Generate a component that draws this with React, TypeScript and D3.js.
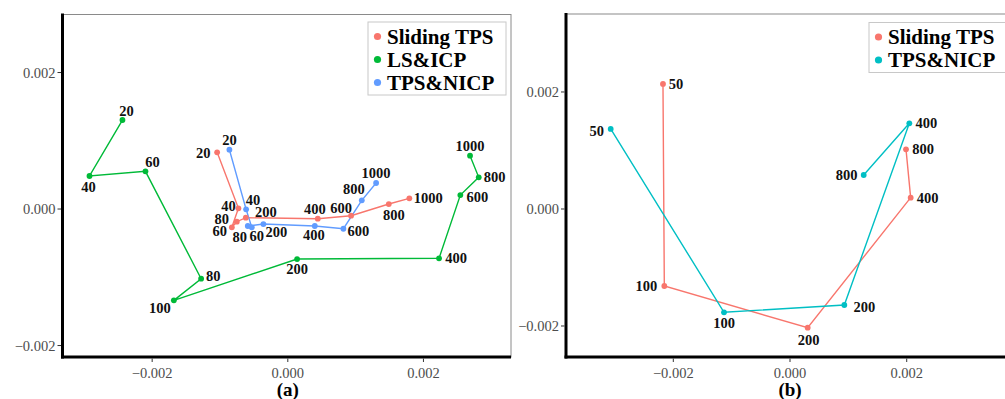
import React from "react";
import * as d3 from "d3";

// ---- Panel (a): trajectories of three registration methods ----
const aSlidingLabels = ["20", "40", "60", "80", "200", "400", "600", "800", "1000"];
const aSlidingX = [-0.001042, -0.000728, -0.000825, -0.000752, -0.000619, 0.000442, 0.000933, 0.001489, 0.001792];
const aSlidingY = [0.000831, 0.00001, -0.000268, -0.000186, -0.000127, -0.000142, -0.000098, 0.000073, 0.000157];

const aLsIcpLabels = ["20", "40", "60", "80", "100", "200", "400", "600", "800", "1000"];
const aLsIcpX = [-0.002438, -0.002924, -0.002099, -0.001278, -0.00168, 0.000137, 0.00223, 0.002544, 0.002815, 0.002687];
const aLsIcpY = [0.001304, 0.000484, 0.000552, -0.001021, -0.001338, -0.000733, -0.000722, 0.000205, 0.000464, 0.000781];

const aNicpLabels = ["20", "40", "60", "80", "200", "400", "600", "800", "1000"];
const aNicpX = [-0.000861, -0.000615, -0.000531, -0.00059, -0.00036, 0.000398, 0.00082, 0.001091, 0.001302];
const aNicpY = [0.000869, -0.000004, -0.000268, -0.000249, -0.00022, -0.000249, -0.000289, 0.000127, 0.000381];

// ---- Panel (b): two methods ----
const bSlidingLabels = ["50", "100", "200", "400", "800"];
const bSlidingX = [-0.002177, -0.002154, 0.000303, 0.002068, 0.001988];
const bSlidingY = [0.002137, -0.001316, -0.002029, 0.000194, 0.00102];

const bNicpLabels = ["50", "100", "200", "400", "800"];
const bNicpX = [-0.003073, -0.001131, 0.000931, 0.002045, 0.001263];
const bNicpY = [0.001368, -0.001766, -0.001641, 0.001465, 0.000581];

// Axis ticks
const tickValues = [-0.002, 0, 0.002];
const tickText = ["\u22120.002", "0.000", "0.002"];

// Legend entries
const legendA = ["Sliding TPS", "LS&ICP", "TPS&NICP"];
const legendB = ["Sliding TPS", "TPS&NICP"];

// Point label nudges (pixels) so labels sit beside their points
const aSlidingNudge = [[-14, 1], [-10, -2], [-12, 4], [-15, -3], [20, -6], [-3, -10], [-10, -8], [5, 11], [19, 0]];
const aLsIcpNudge = [[4, -9], [-1, 11], [7, -9], [12, -3], [-14, 8], [0, 10], [17, 0], [17, 2], [16, 0], [0, -10]];
const aNicpNudge = [[0, -10], [7, -9], [5, 9], [-8, 11], [13, 8], [-1, 9], [15, 2], [-8, -11], [0, -10]];
const bSlidingNudge = [[13, 0], [-18, 0], [1, 12], [17, 0], [17, 0]];
const bNicpNudge = [[-14, 2], [0, 11], [20, 2], [17, 0], [-17, 0]];

const RED = "#F8766D";
const GREEN = "#00BA38";
const BLUE = "#619CFF";
const CYAN = "#00BFC4";
const SERIF = "'Liberation Serif', 'Times New Roman', serif";

type Series = {
  labels: string[];
  xs: number[];
  ys: number[];
  color: string;
  nudge: number[][];
};

type PanelProps = {
  box: { left: number; right: number; top: number; bottom: number };
  xDomain: [number, number];
  yDomain: [number, number];
  series: Series[];
  legend: string[];
  legendColors: string[];
  legendBox: { x: number; y: number; w: number; h: number };
  caption: string;
  clipId: string;
};

function Panel({ box, xDomain, yDomain, series, legend, legendColors, legendBox, caption, clipId }: PanelProps) {
  const x = d3.scaleLinear().domain(xDomain).range([box.left, box.right]);
  const y = d3.scaleLinear().domain(yDomain).range([box.bottom, box.top]);
  const line = d3
    .line<[number, number]>()
    .x((d) => x(d[0]))
    .y((d) => y(d[1]));

  return (
    <g>
      <defs>
        <clipPath id={clipId}>
          <rect x={box.left} y={box.top} width={box.right - box.left} height={box.bottom - box.top} />
        </clipPath>
      </defs>
      {/* panel frame: thin grey top/right, thick black left/bottom */}
      <rect
        x={box.left}
        y={box.top}
        width={box.right - box.left}
        height={box.bottom - box.top}
        fill="white"
        stroke="#8a8a8a"
        strokeWidth={1}
      />
      <g clipPath={`url(#${clipId})`}>
        {series.map((s, si) => (
          <path
            key={`l${si}`}
            d={line(s.xs.map((v, i) => [v, s.ys[i]] as [number, number])) || ""}
            fill="none"
            stroke={s.color}
            strokeWidth={1.4}
          />
        ))}
        {series.map((s, si) =>
          s.xs.map((v, i) => (
            <circle key={`p${si}-${i}`} cx={x(v)} cy={y(s.ys[i])} r={2.9} fill={s.color} />
          ))
        )}
      </g>
      {series.map((s, si) =>
        s.labels.map((lab, i) => (
          <text
            key={`t${si}-${i}`}
            x={x(s.xs[i]) + s.nudge[i][0]}
            y={y(s.ys[i]) + s.nudge[i][1]}
            dy="0.35em"
            textAnchor="middle"
            fontFamily={SERIF}
            fontWeight="bold"
            fontSize={14.5}
            fill="#111"
          >
            {lab}
          </text>
        ))
      )}
      {/* axes */}
      <line x1={box.left} y1={box.top - 1} x2={box.left} y2={box.bottom + 1.5} stroke="#000" strokeWidth={3} />
      <line x1={box.left - 1.5} y1={box.bottom} x2={box.right} y2={box.bottom} stroke="#000" strokeWidth={3} />
      {tickValues.map((t, i) => (
        <g key={`xt${i}`}>
          <line x1={x(t)} x2={x(t)} y1={box.bottom + 1.5} y2={box.bottom + 5} stroke="#333" strokeWidth={1} />
          <text
            x={x(t)}
            y={box.bottom + 21}
            textAnchor="middle"
            fontFamily={SERIF}
            fontSize={14.5}
            fill="#4D4D4D"
          >
            {tickText[i]}
          </text>
        </g>
      ))}
      {tickValues.map((t, i) => (
        <g key={`yt${i}`}>
          <line x1={box.left - 5} x2={box.left - 1.5} y1={y(t)} y2={y(t)} stroke="#333" strokeWidth={1} />
          <text
            x={box.left - 7}
            y={y(t)}
            dy="0.35em"
            textAnchor="end"
            fontFamily={SERIF}
            fontSize={14.5}
            fill="#4D4D4D"
          >
            {tickText[i]}
          </text>
        </g>
      ))}
      {/* legend */}
      <rect
        x={legendBox.x}
        y={legendBox.y}
        width={legendBox.w}
        height={legendBox.h}
        fill="white"
        stroke="#c8c8c8"
        strokeWidth={1}
      />
      {legend.map((name, i) => (
        <g key={`lg${i}`}>
          <circle cx={legendBox.x + 9.5} cy={legendBox.y + 14.5 + i * 23} r={3.6} fill={legendColors[i]} />
          <text
            x={legendBox.x + 19}
            y={legendBox.y + 14.5 + i * 23}
            dy="0.35em"
            fontFamily={SERIF}
            fontWeight="bold"
            fontSize={21}
            fill="#000"
          >
            {name}
          </text>
        </g>
      ))}
      <text
        x={x(0)}
        y={396}
        textAnchor="middle"
        fontFamily={SERIF}
        fontWeight="bold"
        fontSize={19}
        fill="#000"
      >
        {caption}
      </text>
    </g>
  );
}

export default function App() {
  const seriesA: Series[] = [
    { labels: aSlidingLabels, xs: aSlidingX, ys: aSlidingY, color: RED, nudge: aSlidingNudge },
    { labels: aLsIcpLabels, xs: aLsIcpX, ys: aLsIcpY, color: GREEN, nudge: aLsIcpNudge },
    { labels: aNicpLabels, xs: aNicpX, ys: aNicpY, color: BLUE, nudge: aNicpNudge },
  ];
  const seriesB: Series[] = [
    { labels: bSlidingLabels, xs: bSlidingX, ys: bSlidingY, color: RED, nudge: bSlidingNudge },
    { labels: bNicpLabels, xs: bNicpX, ys: bNicpY, color: CYAN, nudge: bNicpNudge },
  ];

  return (
    <svg
      width={1005}
      height={399}
      style={{ position: "absolute", left: 0, top: 0, background: "white" }}
    >
      <rect x={0} y={0} width={1005} height={399} fill="white" />
      <Panel
        box={{ left: 62.5, right: 511, top: 14.5, bottom: 357 }}
        xDomain={[-0.003322, 0.003291]}
        yDomain={[-0.002168, 0.00285]}
        series={seriesA}
        legend={legendA}
        legendColors={[RED, GREEN, BLUE]}
        legendBox={{ x: 368, y: 22, w: 138, h: 73 }}
        caption="(a)"
        clipId="clipA"
      />
      <Panel
        box={{ left: 566, right: 1015, top: 14, bottom: 357 }}
        xDomain={[-0.003839, 0.003856]}
        yDomain={[-0.00253, 0.003333]}
        series={seriesB}
        legend={legendB}
        legendColors={[RED, CYAN]}
        legendBox={{ x: 869, y: 22.5, w: 150, h: 50 }}
        caption="(b)"
        clipId="clipB"
      />
    </svg>
  );
}
